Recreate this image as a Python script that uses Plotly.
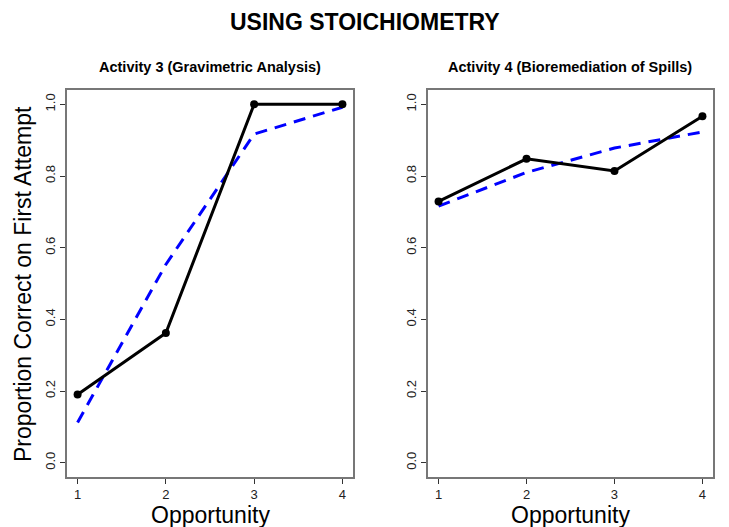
import plotly.graph_objects as go

opportunity = [1, 2, 3, 4]
act3_observed = [0.19, 0.362, 1.0, 1.0]
act3_predicted = [0.112, 0.553, 0.917, 0.992]
act4_observed = [0.729, 0.848, 0.814, 0.967]
act4_predicted = [0.716, 0.810, 0.878, 0.923]
panel_titles = ["Activity 3 (Gravimetric Analysis)", "Activity 4 (Bioremediation of Spills)"]
y_ticks = [0.0, 0.2, 0.4, 0.6, 0.8, 1.0]
y_ticklabels = ["0.0", "0.2", "0.4", "0.6", "0.8", "1.0"]

FONT = "Liberation Sans, Arial, Helvetica, sans-serif"
# page body has an 8px margin; work in window pixels and convert
OFF = 8
W, H = 729 - OFF, 527 - OFF


def px(x):
    return (x - OFF) / W


def py(y):
    return 1 - (y - OFF) / H


fig = go.Figure()

panels = [(act3_observed, act3_predicted, "x", "y"), (act4_observed, act4_predicted, "x2", "y2")]
for obs, pred, xa, ya in panels:
    fig.add_trace(go.Scatter(x=opportunity, y=pred, mode="lines", xaxis=xa, yaxis=ya,
                             line=dict(color="#0000ff", width=3, dash="12px,8px"),
                             showlegend=False, hoverinfo="skip"))
    fig.add_trace(go.Scatter(x=opportunity, y=obs, mode="lines+markers", xaxis=xa, yaxis=ya,
                             line=dict(color="black", width=3),
                             marker=dict(color="black", size=8),
                             showlegend=False))

x_domains = [[px(67), px(353)], [px(428), px(713)]]
y_domain = [py(477), py(90)]

axis_common = dict(showgrid=False, zeroline=False, showline=True, linecolor="#777",
                   linewidth=1.5, mirror=True, ticks="outside", ticklen=5, tickwidth=1,
                   tickcolor="#333", tickfont=dict(family=FONT, size=13, color="#222"))

fig.update_layout(
    width=W, height=H,
    margin=dict(l=0, r=0, t=0, b=0),
    paper_bgcolor="white", plot_bgcolor="white",
    font=dict(family=FONT, color="black"),
    xaxis=dict(domain=x_domains[0], range=[0.88, 4.12], tickvals=opportunity,
               anchor="y", **axis_common),
    yaxis=dict(domain=y_domain, range=[-0.04, 1.04], tickvals=y_ticks, ticktext=y_ticklabels,
               tickangle=-90, anchor="x", **axis_common),
    xaxis2=dict(domain=x_domains[1], range=[0.88, 4.12], tickvals=opportunity,
                anchor="y2", **axis_common),
    yaxis2=dict(domain=y_domain, range=[-0.04, 1.04], tickvals=y_ticks, ticktext=y_ticklabels,
                tickangle=-90, anchor="x2", **axis_common),
)

annotations = [
    dict(text="<b>USING STOICHIOMETRY</b>", x=px(365), y=py(22), xref="paper", yref="paper",
         showarrow=False, font=dict(family=FONT, size=23, color="black"), xanchor="center", yanchor="middle"),
    dict(text="<b>" + panel_titles[0] + "</b>", x=px(210), y=py(67), xref="paper", yref="paper",
         showarrow=False, font=dict(family=FONT, size=14.5, color="black"), xanchor="center", yanchor="middle"),
    dict(text="<b>" + panel_titles[1] + "</b>", x=px(570), y=py(67), xref="paper", yref="paper",
         showarrow=False, font=dict(family=FONT, size=14.5, color="black"), xanchor="center", yanchor="middle"),
    dict(text="Opportunity", x=px(210), y=py(515), xref="paper", yref="paper",
         showarrow=False, font=dict(family=FONT, size=23, color="black"), xanchor="center", yanchor="middle"),
    dict(text="Opportunity", x=px(570), y=py(515), xref="paper", yref="paper",
         showarrow=False, font=dict(family=FONT, size=23, color="black"), xanchor="center", yanchor="middle"),
    dict(text="Proportion Correct on First Attempt", x=px(23), y=py(284), xref="paper", yref="paper",
         showarrow=False, textangle=-90, font=dict(family=FONT, size=23, color="black"),
         xanchor="center", yanchor="middle"),
]
fig.update_layout(annotations=annotations)

fig.write_html("out.html")
